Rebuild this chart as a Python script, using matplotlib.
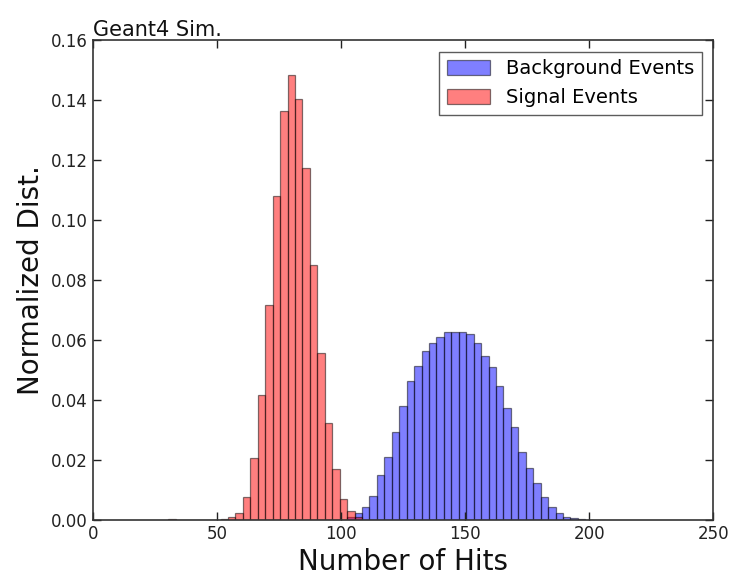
import numpy as np
import matplotlib
matplotlib.use("Agg")
import matplotlib.pyplot as plt

# Normalized hit-count distributions, 3-hit wide bins
bin_width = 3.0

signal_start = 30.5
signal_vals = [0.0004, 0.0, 0.0, 0.0, 0.0, 0.0, 0.0, 0.0004,
               0.001, 0.0024, 0.0078, 0.0206, 0.0417, 0.0717, 0.108, 0.1364,
               0.1483, 0.1402, 0.1172, 0.085, 0.0556, 0.0322, 0.0169, 0.0070,
               0.0030, 0.0010]

background_start = 102.5
background_vals = [0.001, 0.0024, 0.0042, 0.008, 0.015, 0.0211, 0.0294, 0.038,
                   0.0464, 0.0513, 0.0563, 0.0591, 0.0609, 0.0626, 0.0628, 0.0626,
                   0.062, 0.0589, 0.0547, 0.0509, 0.0447, 0.0372, 0.0309, 0.0228,
                   0.0172, 0.0124, 0.0076, 0.0044, 0.0022, 0.0011, 0.0006, 0.0003,
                   0.0001]

x_ticks = [0, 50, 100, 150, 200, 250]
y_ticks = [0.00, 0.02, 0.04, 0.06, 0.08, 0.10, 0.12, 0.14, 0.16]

plt.rcParams["font.family"] = "DejaVu Sans"
plt.rcParams["xtick.direction"] = "in"
plt.rcParams["ytick.direction"] = "in"
plt.rcParams["xtick.top"] = True
plt.rcParams["ytick.right"] = True


def edges_for(start, vals):
    return start + bin_width * np.arange(len(vals) + 1)


fig = plt.figure(figsize=(7.3, 5.75), dpi=100)
ax = fig.add_axes([0.127, 0.0957, 0.850, 0.8347])

bg_edges = edges_for(background_start, background_vals)
sig_edges = edges_for(signal_start, signal_vals)

ax.hist(bg_edges[:-1], bins=bg_edges, weights=background_vals,
        color="blue", alpha=0.5, edgecolor="black", linewidth=0.9,
        label="Background Events")
ax.hist(sig_edges[:-1], bins=sig_edges, weights=signal_vals,
        color="red", alpha=0.5, edgecolor="black", linewidth=0.9,
        label="Signal Events")

ax.set_xlim(0, 250)
ax.set_ylim(0, 0.16)
ax.set_xticks(x_ticks)
ax.set_yticks(y_ticks)
ax.set_yticklabels([f"{v:.2f}" for v in y_ticks])
ax.tick_params(labelsize=12, length=6, width=1, colors="#222222")
for s in ax.spines.values():
    s.set_color("#333333")
    s.set_linewidth(1.2)

ax.set_xlabel("Number of Hits", fontsize=20, color="#111111")
ax.set_ylabel("Normalized Dist.", fontsize=20, color="#111111")
ax.set_title("Geant4 Sim.", loc="left", fontsize=15, pad=3, color="#111111")

leg = ax.legend(loc="upper right", fontsize=14, fancybox=False,
                borderaxespad=0.6, handlelength=2.2, handleheight=0.8)
leg.get_frame().set_edgecolor("#333333")
leg.get_frame().set_linewidth(1.0)

fig.savefig("out.png", dpi=100, facecolor="white")
